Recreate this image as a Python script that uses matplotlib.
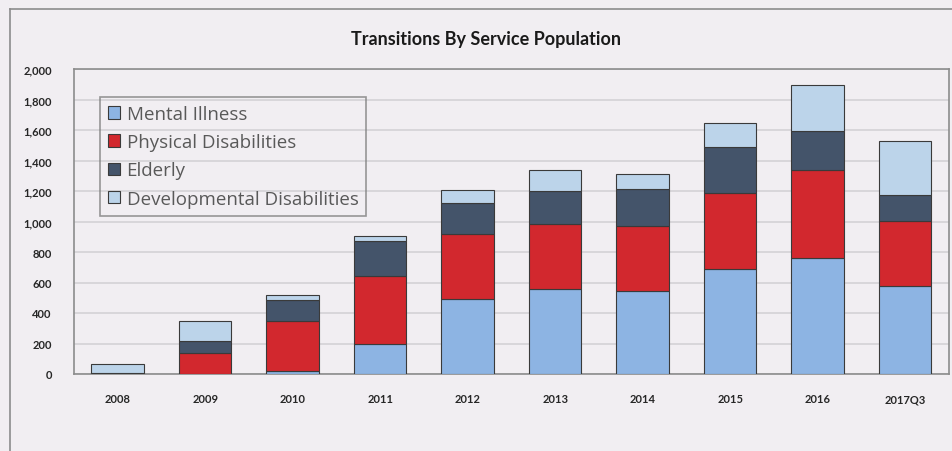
import matplotlib.pyplot as plt
import numpy as np
from matplotlib.lines import Line2D

# Werte
years = ["2008", "2009", "2010", "2011", "2012", "2013", "2014", "2015", "2016", "2017Q3"]
mental = [0, 0, 22, 197, 493, 558, 543, 690, 760, 574]
physical = [0, 138, 328, 445, 422, 427, 425, 495, 580, 427]
elderly = [5, 81, 138, 227, 206, 215, 243, 304, 254, 171]
developmental = [60, 131, 33, 35, 83, 136, 103, 154, 300, 354]

series = [
    ("Mental Illness", mental, "#8db4e3"),
    ("Physical Disabilities", physical, "#d2282e"),
    ("Elderly", elderly, "#44546a"),
    ("Developmental Disabilities", developmental, "#bcd4ea"),
]

plt.rcParams["font.family"] = ["Lato", "DejaVu Sans"]
bg = "#f1eef2"

fig = plt.figure(figsize=(9.53, 4.52), dpi=100, facecolor=bg)
ax = fig.add_axes([74 / 953, 77 / 452, 875 / 953, 305 / 452])
ax.set_facecolor(bg)

x = np.arange(len(years))
bottom = np.zeros(len(years))
for name, vals, col in series:
    ax.bar(x, vals, 0.6, bottom=bottom, color=col, edgecolor="#3a3a3a",
           linewidth=0.8, label=name, zorder=3)
    bottom += np.array(vals)

ax.set_xlim(-0.5, len(years) - 0.5)
ax.set_ylim(0, 2000)
ax.set_yticks(range(0, 2001, 200))
ax.set_yticklabels([f"{v:,}" for v in range(0, 2001, 200)])
ax.set_xticks(x)
ax.set_xticklabels(years)
ax.yaxis.grid(True, color="#d4d2d6", linewidth=1.2, zorder=0)
ax.tick_params(length=0, labelsize=8)
ax.tick_params(axis="y", pad=16)
ax.tick_params(axis="x", pad=14)
for lab in ax.get_xticklabels() + ax.get_yticklabels():
    lab.set_fontweight("bold")
    lab.set_color("#262626")
for sp in ax.spines.values():
    sp.set_color("#8c8c8c")
    sp.set_linewidth(1.2)

leg = ax.legend(loc="upper left", bbox_to_anchor=(26 / 875, 277 / 305),
                prop={"family": ["Open Sans", "DejaVu Sans"], "size": 13.5},
                frameon=True, fancybox=False, handlelength=0.65,
                handleheight=0.65, handletextpad=0.35, labelspacing=0.55,
                borderpad=0.42, borderaxespad=0)
leg.get_frame().set_facecolor("none")
leg.get_frame().set_edgecolor("#7f7f7f")
leg.get_frame().set_linewidth(1.2)
for t in leg.get_texts():
    t.set_color("#595959")

fig.text(486 / 953, 1 - 40 / 452, "Transitions By Service Population",
         ha="center", va="center", fontsize=13, fontweight="bold", color="#1a1a1a")

# aeusserer Rahmen (nur links und oben sichtbar)
fig.add_artist(Line2D([10 / 953, 10 / 953], [0, 1 - 10 / 452], color="#8c8c8c", lw=1.2))
fig.add_artist(Line2D([10 / 953, 1], [1 - 10 / 452, 1 - 10 / 452], color="#8c8c8c", lw=1.2))

fig.savefig("out.png", dpi=100, facecolor=bg)
